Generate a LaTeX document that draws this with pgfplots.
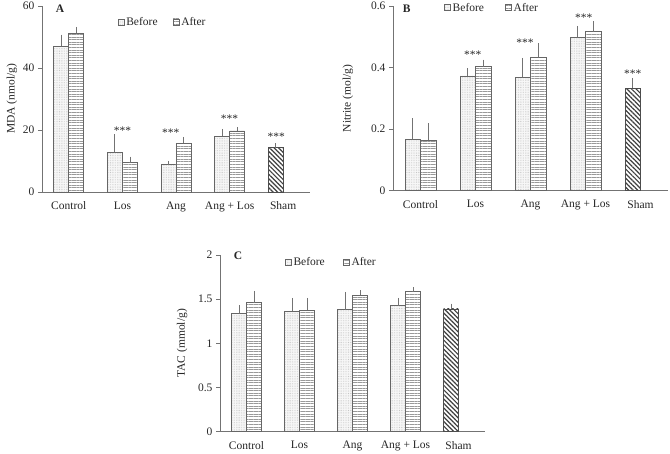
\documentclass[border=0pt]{standalone}
\usepackage{pgfplots}
\pgfplotsset{compat=1.18}
\usepackage{fontspec}
\setmainfont{Liberation Serif}
\usetikzlibrary{patterns.meta}

\newcommand{\fs}{\fontsize{11.5}{13}\selectfont}
\colorlet{axc}{black!55}
\colorlet{txc}{black!85}

\tikzset{stars/.style={font=\fs, text=txc, yshift=-1.5pt}}

\pgfplotsset{
  mybase/.style={
    scale only axis,
    clip=false,
    axis lines*=left,
    axis line style={draw=axc, line width=0.8pt, -},
    xmin=-0.5, xmax=4.5,
    ymin=0,
    xtick={0,1,2,3,4},
    xticklabels={Control,Los,Ang,Ang + Los,Sham},
    x tick style={draw=none},
    y tick style={draw=axc, line width=0.8pt},
    tick align=outside,
    major tick length=4pt,
    xticklabel style={yshift=-2pt},
    tick label style={font=\fs, text=txc},
    label style={font=\fs, text=txc},
    /pgf/number format/assume math mode=true,
    ybar, bar width=0.28,
    error bars/y dir=plus, error bars/y explicit,
    error bars/error mark options={line width=0.8pt, mark size=2pt, draw=axc},
    error bars/error bar style={line width=0.8pt, draw=axc},
    legend style={draw=none, fill=none, font=\fs, text=txc, legend columns=2, anchor=center,
      /tikz/every odd column/.append style={inner xsep=1pt}},
  },
  befst/.style={draw=black!60, line width=0.7pt, fill=gray!6, bar shift=-0.14,
    postaction={pattern={Dots[distance=1.7pt, radius=0.3pt]}, pattern color=gray!65},
    legend image code/.code={\draw[##1] (0pt,-3pt) rectangle (6pt,3pt);}},
  aftst/.style={draw=black!60, line width=0.7pt, fill=white, bar shift=0.14,
    postaction={pattern={Lines[angle=0, distance=2.6pt, line width=0.9pt]}, pattern color=gray!80},
    legend image code/.code={\draw[##1] (0pt,-3pt) rectangle (6pt,3pt);}},
  shamst/.style={draw=black!70, line width=0.7pt, fill=white, bar shift=-0.14,
    postaction={pattern={Lines[angle=-45, distance=3.2pt, line width=1.2pt]}, pattern color=black!75}},
}

\begin{document}
\begin{tikzpicture}
\useasboundingbox (0,0) rectangle (670pt,453pt);

% Panel A
\begin{axis}[mybase, at={(42pt,261pt)}, anchor=south west, width=268pt, height=186pt,
  ymax=60, ytick={0,20,40,60}, ylabel={MDA (nmol/g)},
  ylabel style={at={(axis description cs:-0.112,0.5)}, anchor=center},
  legend style={at={(0.45,0.914)}, /tikz/every even column/.append style={column sep=13pt}}]
\addplot[befst] coordinates {(0,47.0) +- (0,3.1) (1,12.8) +- (0,5.2) (2,8.8) +- (0,0.6) (3,18.0) +- (0,1.7)};
\addplot[aftst] coordinates {(0,51.2) +- (0,1.4) (1,9.5) +- (0,1.3) (2,15.8) +- (0,1.3) (3,19.7) +- (0,0.5)};
\addplot[shamst, forget plot] coordinates {(4,14.3) +- (0,0.8)};
\legend{Before,After}
\node[stars] at (axis cs:1,20.2) {***};
\node[stars] at (axis cs:1.9,19.6) {***};
\node[stars] at (axis cs:3.0,24.0) {***};
\node[stars] at (axis cs:3.87,18.3) {***};
\node[font=\fs\bfseries, text=txc] at (rel axis cs:0.067,0.985) {A};
\end{axis}

% Panel B
\begin{axis}[mybase, at={(393pt,262.3pt)}, anchor=south west, width=275pt, height=184.7pt,
  ymax=0.6, ytick={0,0.2,0.4,0.6}, ylabel={Nitrite (mol/g)},
  ylabel style={at={(axis description cs:-0.164,0.5)}, anchor=center},
  legend style={at={(0.36,0.99)}, /tikz/every even column/.append style={column sep=19pt}}]
\addplot[befst] coordinates {(0,0.167) +- (0,0.062) (1,0.373) +- (0,0.019) (2,0.368) +- (0,0.057) (3,0.498) +- (0,0.031)};
\addplot[aftst] coordinates {(0,0.165) +- (0,0.048) (1,0.403) +- (0,0.016) (2,0.433) +- (0,0.039) (3,0.517) +- (0,0.027)};
\addplot[shamst, forget plot] coordinates {(4,0.333) +- (0,0.027)};
\legend{Before,After}
\node[stars] at (axis cs:0.95,0.446) {***};
\node[stars] at (axis cs:1.9,0.484) {***};
\node[stars] at (axis cs:2.97,0.566) {***};
\node[stars] at (axis cs:3.86,0.384) {***};
\node[font=\fs\bfseries, text=txc] at (rel axis cs:0.05,0.985) {B};
\end{axis}

% Panel C
\begin{axis}[mybase, at={(220pt,21.3pt)}, anchor=south west, width=265pt, height=176.7pt,
  ymax=2, ytick={0,0.5,1,1.5,2}, ylabel={TAC (mmol/g)},
  ylabel style={at={(axis description cs:-0.143,0.5)}, anchor=center},
  legend style={at={(0.42,0.96)}, /tikz/every even column/.append style={column sep=16pt}}]
\addplot[befst] coordinates {(0,1.34) +- (0,0.07) (1,1.366) +- (0,0.125) (2,1.381) +- (0,0.18) (3,1.426) +- (0,0.065)};
\addplot[aftst] coordinates {(0,1.46) +- (0,0.11) (1,1.377) +- (0,0.115) (2,1.547) +- (0,0.03) (3,1.585) +- (0,0.026)};
\addplot[shamst, forget plot] coordinates {(4,1.389) +- (0,0.037)};
\legend{Before,After}
\node[font=\fs\bfseries, text=txc] at (rel axis cs:0.068,0.995) {C};
\end{axis}
\end{tikzpicture}
\end{document}
